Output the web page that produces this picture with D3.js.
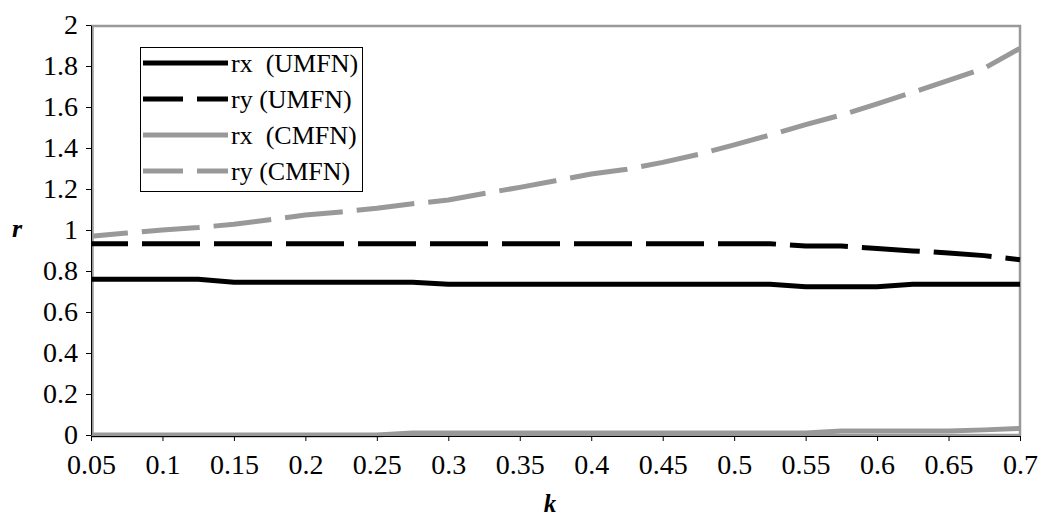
<!DOCTYPE html>
<html>
<head>
<meta charset="utf-8">
<script src="https://cdn.jsdelivr.net/npm/d3@7/dist/d3.min.js"></script>
<style>
  html, body { margin: 0; padding: 0; background: #fff; }
  svg { display: block; }
  svg text { font-family: "Liberation Serif", "Times New Roman", serif; fill: #000; }
</style>
</head>
<body>
<svg id="chart" width="1042" height="518"></svg>
<script>
// ---- data ----
const kValues = [0.05,0.075,0.1,0.125,0.15,0.175,0.2,0.225,0.25,0.275,0.3,0.325,0.35,0.375,0.4,0.425,0.45,0.475,0.5,0.525,0.55,0.575,0.6,0.625,0.65,0.675,0.7];
const rxUMFN = [0.76,0.76,0.76,0.76,0.745,0.745,0.745,0.745,0.745,0.745,0.735,0.735,0.735,0.735,0.735,0.735,0.735,0.735,0.735,0.735,0.723,0.723,0.723,0.735,0.735,0.735,0.735];
const ryUMFN = [0.933,0.933,0.933,0.933,0.933,0.933,0.933,0.933,0.933,0.933,0.933,0.933,0.933,0.933,0.933,0.933,0.933,0.933,0.933,0.933,0.922,0.922,0.91,0.898,0.888,0.875,0.855];
const rxCMFN = [0,0,0,0,0,0,0,0,0,0.01,0.01,0.01,0.01,0.01,0.01,0.01,0.01,0.01,0.01,0.01,0.01,0.02,0.02,0.02,0.02,0.025,0.032];
const ryCMFN = [0.97,0.985,1.0,1.012,1.028,1.05,1.073,1.088,1.106,1.128,1.146,1.178,1.208,1.24,1.273,1.296,1.33,1.369,1.415,1.463,1.514,1.561,1.615,1.672,1.73,1.789,1.886];
const xTickValues = [0.05,0.1,0.15,0.2,0.25,0.3,0.35,0.4,0.45,0.5,0.55,0.6,0.65,0.7];
const xTickLabels = ["0.05","0.1","0.15","0.2","0.25","0.3","0.35","0.4","0.45","0.5","0.55","0.6","0.65","0.7"];
const yTickValues = [0,0.2,0.4,0.6,0.8,1,1.2,1.4,1.6,1.8,2];
const yTickLabels = ["0","0.2","0.4","0.6","0.8","1","1.2","1.4","1.6","1.8","2"];
const seriesNames = ["rx  (UMFN)","ry (UMFN)","rx  (CMFN)","ry (CMFN)"];

// ---- layout ----
const svg = d3.select("#chart");
const pLeft = 91, pRight = 1020, pTop = 25, pBottom = 435;
const x = d3.scaleLinear().domain([0.05, 0.7]).range([pLeft, pRight]);
const y = d3.scaleLinear().domain([0, 2]).range([pBottom, pTop]);

const BLACK = "#000", GRAY = "#999999";
const SERIF = '"Liberation Serif", "Times New Roman", serif';
const styles = [
  {color: BLACK, dash: null},
  {color: BLACK, dash: "58,14"},
  {color: GRAY, dash: null},
  {color: GRAY, dash: "58,14"}
];
const series = [rxUMFN, ryUMFN, rxCMFN, ryCMFN];

// plot area frame
svg.append("rect")
  .attr("x", pLeft + 1.5).attr("y", pTop + 1)
  .attr("width", pRight - pLeft - 1.5).attr("height", pBottom - pTop - 1)
  .attr("fill", "none").attr("stroke", "#999999").attr("stroke-width", 2.5);

// lines
const line = d3.line().x((d, i) => x(kValues[i])).y(d => y(d));
series.forEach((s, i) => {
  const p = svg.append("path")
    .datum(s)
    .attr("d", line)
    .attr("fill", "none")
    .attr("stroke", styles[i].color)
    .attr("stroke-width", 5)
    .attr("stroke-linejoin", "round");
  if (styles[i].dash) p.attr("stroke-dasharray", styles[i].dash).attr("stroke-dashoffset", 21);
});

// axes
const yAxis = d3.axisLeft(y).tickValues(yTickValues).tickFormat((d, i) => yTickLabels[i]).tickSize(5).tickSizeOuter(0);
const gy = svg.append("g").attr("transform", `translate(${pLeft},0)`).call(yAxis)
  .attr("font-family", SERIF).attr("font-size", 28);
gy.select(".domain").attr("stroke", BLACK).attr("stroke-width", 1);
gy.selectAll(".tick line").attr("stroke", BLACK);
gy.selectAll(".tick text").attr("x", -13).attr("dy", "0.32em")
  .style("font-family", SERIF).style("font-size", "28px");

const xAxis = d3.axisBottom(x).tickValues(xTickValues).tickFormat((d, i) => xTickLabels[i]).tickSize(5).tickSizeOuter(0);
const gx = svg.append("g").attr("transform", `translate(0,${pBottom + 1})`).call(xAxis)
  .attr("font-family", SERIF).attr("font-size", 28);
gx.select(".domain").attr("stroke", BLACK).attr("stroke-width", 1);
gx.selectAll(".tick line").attr("stroke", BLACK);
gx.selectAll(".tick text").attr("y", 38).attr("dy", 0)
  .style("font-family", SERIF).style("font-size", "28px");

// axis titles
svg.append("text").attr("x", 17).attr("y", 237).attr("text-anchor", "middle")
  .style("font-family", SERIF).style("font-size", "26px").style("font-weight", "bold").style("font-style", "italic").text("r");
svg.append("text").attr("x", 550).attr("y", 512).attr("text-anchor", "middle")
  .style("font-family", SERIF).style("font-size", "25px").style("font-weight", "bold").style("font-style", "italic").text("k");

// legend
const lg = svg.append("g");
lg.append("rect").attr("x", 140.5).attr("y", 47.5).attr("width", 222).attr("height", 144)
  .attr("fill", "#fff").attr("stroke", "#000").attr("stroke-width", 1);
seriesNames.forEach((name, i) => {
  const yy = 63 + i * 36;
  const l = lg.append("line").attr("x1", 143).attr("x2", 228).attr("y1", yy).attr("y2", yy)
    .attr("stroke", styles[i].color).attr("stroke-width", 5);
  if (styles[i].dash) l.attr("stroke-dasharray", "40,14");
  lg.append("text").attr("x", 231).attr("y", yy + 9)
    .style("font-family", SERIF).style("font-size", "26px")
    .attr("xml:space", "preserve").style("white-space", "pre").text(name);
});
</script>
</body>
</html>
